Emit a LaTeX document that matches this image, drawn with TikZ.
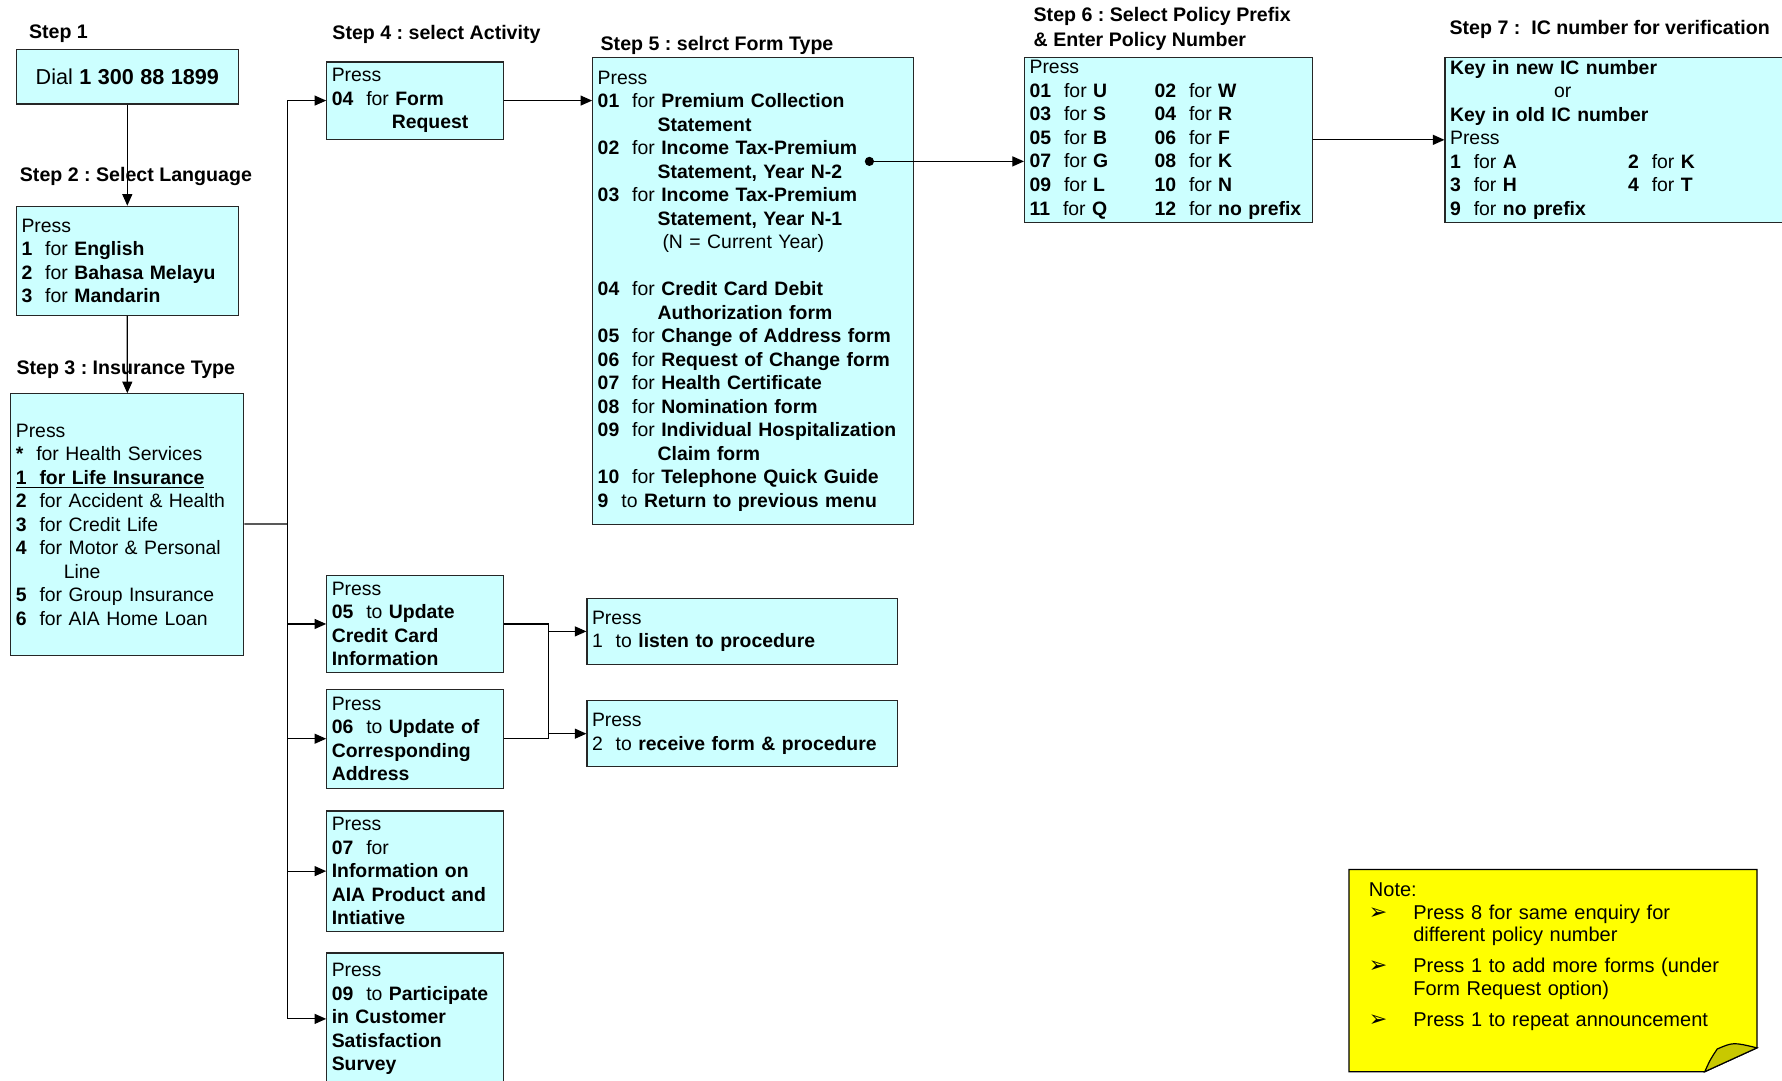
\documentclass[tikz,border=0pt]{standalone}
\usepackage{fontspec}
\setmainfont{Liberation Sans}
\newfontfamily\dingfont{DejaVu Sans}
\usepackage{xcolor}
\usepackage{tikz}
\usetikzlibrary{arrows.meta,calc,positioning}
\definecolor{boxcyan}{HTML}{CCFFFF}
\definecolor{noteyellow}{HTML}{FFFF00}
\definecolor{foldyellow}{HTML}{C8C800}
\tikzset{%
	block/.style     = {draw=black!85, fill=boxcyan, rectangle, anchor=north west, align=left, inner xsep=2.5pt, inner ysep=0pt}, % Menu box
	steplabel/.style = {anchor=west, inner sep=0pt, align=left, font=\fontsize{9.8}{11.9}\selectfont\bfseries}, % Step title
	waypoint/.style  = {coordinate}, % Junction
}
\newcommand{\hang}{\hspace*{30pt}}
\newcommand{\lcol}[2]{\makebox[#1][l]{#2}}
\newcommand{\notebullet}{\makebox[22.2pt][l]{\dingfont\fontsize{11}{10}\selectfont ➢}}
\frenchspacing

\begin{document}
\begin{tikzpicture}[x=0.5682pt, y=-0.5682pt, line width=0.6pt, >={Triangle[length=5.8pt,width=5pt]},
	every node/.append style={font=\fontsize{9.7}{11.75}\selectfont}]
		\useasboundingbox (0,0) rectangle (1568,951);
		% step titles
		\node[steplabel] (s1) at (25,30) {Step 1};
		\node[steplabel] (s2) at (17,155) {Step 2 : Select Language};
		\node[steplabel] (s3) at (14,325) {Step 3 : Insurance Type};
		\node[steplabel] (s4) at (292,30) {Step 4 : select Activity};
		\node[steplabel] (s5) at (528,40) {Step 5 : selrct Form Type};
		\node[steplabel] (s6) at (909,25.5) {Step 6 : Select Policy Prefix\\[0.6pt]\& Enter Policy Number};
		\node[steplabel] (s7) at (1275,26) {Step 7 :\ \ IC number for verification};
		% left column
		\node[block, align=center, text width=105.8pt, minimum height=27.3pt] (dial) at (14,43) {\fontsize{10.8}{13}\selectfont Dial \textbf{1 300 88 1899}};
		\node[block, text width=105.8pt, minimum height=54.5pt] (lang) at (14,181) {Press\\\textbf{1}~~for \textbf{English}\\\textbf{2}~~for \textbf{Bahasa Melayu}\\\textbf{3}~~for \textbf{Mandarin}};
		\node[block, text width=111.5pt, minimum height=130.7pt] (ins) at (9,346) {Press\\\textbf{*}~~for Health Services\\\underline{\textbf{1~~for Life Insurance}}\\\textbf{2}~~for Accident \& Health\\\textbf{3}~~for Credit Life\\\textbf{4}~~for Motor \& Personal\\\hspace*{24pt}Line\\\textbf{5}~~for Group Insurance\\\textbf{6}~~for AIA Home Loan};
		% activities
		\node[block, text width=83.3pt, minimum height=38.6pt] (formreq) at (287,54) {Press\\\textbf{04}~~for \textbf{Form}\\\hang\textbf{Request}};
		\node[block, text width=83.3pt, minimum height=48.3pt] (upcc) at (287,506) {Press\\\textbf{05}~~to \textbf{Update}\\\textbf{Credit Card}\\\textbf{Information}};
		\node[block, text width=83.3pt, minimum height=49.4pt] (upad) at (287,606) {Press\\\textbf{06}~~to \textbf{Update of}\\\textbf{Corresponding}\\\textbf{Address}};
		\node[block, text width=83.3pt, minimum height=60.2pt] (info) at (287,713) {Press\\\textbf{07}~~for\\\textbf{Information on}\\\textbf{AIA Product and}\\\textbf{Intiative}};
		\node[block, text width=83.3pt, minimum height=65.9pt] (survey) at (287,838) {Press\\\textbf{09}~~to \textbf{Participate}\\\textbf{in Customer}\\\textbf{Satisfaction}\\\textbf{Survey}};
		% form types
		\node[block, text width=155.2pt, minimum height=233.5pt] (formtype) at (521,50) {Press\\
			\textbf{01}~~for \textbf{Premium Collection}\\\hang\textbf{Statement}\\
			\textbf{02}~~for \textbf{Income Tax-Premium}\\\hang\textbf{Statement, Year N-2}\\
			\textbf{03}~~for \textbf{Income Tax-Premium}\\\hang\textbf{Statement, Year N-1}\\\hspace*{32.4pt}(N = Current Year)\\[11.75pt]
			\textbf{04}~~for \textbf{Credit Card Debit}\\\hang\textbf{Authorization form}\\
			\textbf{05}~~for \textbf{Change of Address form}\\
			\textbf{06}~~for \textbf{Request of Change form}\\
			\textbf{07}~~for \textbf{Health Certificate}\\
			\textbf{08}~~for \textbf{Nomination form}\\
			\textbf{09}~~for \textbf{Individual Hospitalization}\\\hang\textbf{Claim form}\\
			\textbf{10}~~for \textbf{Telephone Quick Guide}\\
			\textbf{9}~~to \textbf{Return to previous menu}};
		\node[block, text width=138.8pt, minimum height=82.4pt] (policy) at (901,50) {Press\\
			\lcol{62.5pt}{\textbf{01}~~for \textbf{U}}\textbf{02}~~for \textbf{W}\\
			\lcol{62.5pt}{\textbf{03}~~for \textbf{S}}\textbf{04}~~for \textbf{R}\\
			\lcol{62.5pt}{\textbf{05}~~for \textbf{B}}\textbf{06}~~for \textbf{F}\\
			\lcol{62.5pt}{\textbf{07}~~for \textbf{G}}\textbf{08}~~for \textbf{K}\\
			\lcol{62.5pt}{\textbf{09}~~for \textbf{L}}\textbf{10}~~for \textbf{N}\\
			\lcol{62.5pt}{\textbf{11}~~for \textbf{Q}}\textbf{12}~~for \textbf{no prefix}};
		\node[block, text width=182.5pt, minimum height=82.4pt] (ic) at (1271,50) {\textbf{Key in new IC number}\\\hspace*{52pt}or\\\textbf{Key in old IC number}\\Press\\
			\lcol{89pt}{\textbf{1}~~for \textbf{A}}\textbf{2}~~for \textbf{K}\\
			\lcol{89pt}{\textbf{3}~~for \textbf{H}}\textbf{4}~~for \textbf{T}\\
			\textbf{9}~~for \textbf{no prefix}};
		% procedure
		\node[block, text width=150.1pt, minimum height=33pt] (listen) at (516,526) {Press\\1~~to \textbf{listen to procedure}};
		\node[block, text width=150.1pt, minimum height=33pt] (receive) at (516,616) {Press\\2~~to \textbf{receive form \& procedure}};
		% connectors
		\draw[->] (dial) -- (lang);
		\draw[->] (lang) -- (ins);
		\node[waypoint] (bus) at (253,461) {};
		\draw (ins) -- (bus);
		\draw[->] (bus) |- (formreq);
		\draw[->] (bus) |- (survey);
		\foreach \b in {upcc,upad,info}
			\draw[->] (bus |- \b) -- (\b);
		\draw[->] (formreq.east) -- (formreq.east -| formtype.west);
		\node[waypoint] (dot) at (765,142) {};
		\fill (dot) circle (2.3pt);
		\draw[->] (dot) -- (dot -| policy.west);
		\draw[->] (policy) -- (ic);
		\draw (upcc.east) -- ++(39,0) node[waypoint] (jn) {} |- (upad.east);
		\draw[->] (jn |- listen) -- (listen);
		\draw[->] (jn |- receive) -- (receive);
		% note
		\draw[fill=noteyellow] (1187,765) -- (1546,765) -- (1546,922) -- (1500,943) -- (1187,943) -- cycle;
		\draw[fill=foldyellow] (1500,943) .. controls (1505,932) .. (1511,923) .. controls (1525,917) .. (1546,922) -- cycle;
		\node[anchor=north west, align=left, inner sep=0pt, text width=190pt, font=\fontsize{10}{11.4}\selectfont] (note) at (1204,776) {Note:\\
			\notebullet Press 8 for same enquiry for\\\hspace*{22.2pt}different policy number\\[3.8pt]
			\notebullet Press 1 to add more forms (under\\\hspace*{22.2pt}Form Request option)\\[4.2pt]
			\notebullet Press 1 to repeat announcement};
\end{tikzpicture}
\end{document}
